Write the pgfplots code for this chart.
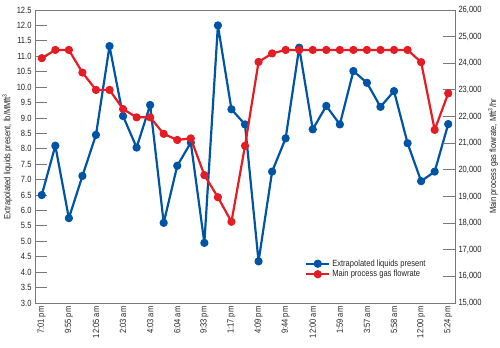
\documentclass[border=0pt]{standalone}
\usepackage{fontspec}
\setmainfont{Liberation Sans}[FakeStretch=0.84]
\usepackage{pgfplots}
\pgfplotsset{compat=1.18}
\definecolor{myblue}{RGB}{0,84,166}
\definecolor{myred}{RGB}{228,28,36}
\definecolor{axgray}{RGB}{120,120,120}
\definecolor{txt}{RGB}{35,35,35}
\pgfplotsset{
  common/.style={
    width=420pt, height=293pt, scale only axis,
    xmin=-0.5, xmax=30.5,
    axis line style={axgray, line width=0.8pt},
    tick align=inside,
    major tick length=12pt,
    /pgf/number format/assume math mode=true,
    tick label style={font=\fontsize{9}{10}\selectfont, text=txt},
    label style={font=\fontsize{9}{10}\selectfont, text=txt},
  },
  lline legend/.style={legend image code/.code={
    \draw[mark repeat=2,mark phase=2,##1] plot coordinates {(0cm,0cm) (0.4cm,0cm) (0.8cm,0cm)};}},
}
\begin{document}
\begin{tikzpicture}
\begin{axis}[common,
  ymin=3, ymax=12.5,
  xtick={0,2,...,30},
  xticklabels={7:01 pm, 9:55 pm, 12:05 am, 2:03 am, 4:03 am, 6:04 am, 9:33 pm, 1:17 pm, 4:09 pm, 9:44 pm, 12:00 am, 1:59 am, 3:57 am, 5:58 am, 12:00 pm, 5:24 pm},
  x tick label style={rotate=90, anchor=east},
  xtick style={draw=none},
  minor xtick={0.5,1.5,...,29.5},
  minor x tick style={axgray, line width=0.8pt},
  minor tick length=8pt,
  xtick pos=left,
  ytick distance=0.5,
  ytick pos=left,
  ytick style={axgray, line width=0.8pt},
  yticklabel style={/pgf/number format/.cd, fixed, fixed zerofill, precision=1},
  ylabel={Extrapolated liquids present, lb/MMft\textsuperscript{3}},
  ylabel style={at={(axis description cs:-0.066,0.5)}, anchor=center},
]
\coordinate (bl) at (rel axis cs:0,0);
\coordinate (tr) at (rel axis cs:1,1);
\addplot[myblue, line width=2.2pt, line join=round, mark=*, mark size=3pt] coordinates {
(0,6.5) (1,8.1) (2,5.75) (3,7.12) (4,8.45) (5,11.33) (6,9.06) (7,8.04) (8,9.42) (9,5.6)
(10,7.45) (11,8.2) (12,4.95) (13,12.0) (14,9.28) (15,8.79) (16,4.35) (17,7.26) (18,8.34) (19,11.28)
(20,8.63) (21,9.39) (22,8.79) (23,10.52) (24,10.14) (25,9.36) (26,9.87) (27,8.18) (28,6.95) (29,7.26) (30,8.8)
};
\end{axis}
\begin{axis}[common,
  ymin=15000, ymax=26000,
  hide x axis,
  axis y line*=right,
  ytick distance=1000,
  ytick style={axgray, line width=0.8pt},
  scaled y ticks=false,
  yticklabel style={/pgf/number format/.cd, 1000 sep={,}},
  ylabel={Main process gas flowrate, Mft\textsuperscript{3}/hr},
  ylabel style={at={(axis description cs:1.0905,0.5)}, anchor=center},
  lline legend,
  legend style={at={(axis description cs:0.636,0.162)}, anchor=north west, draw=none, fill=none,
    font=\fontsize{9}{10}\selectfont, text=txt, row sep=-1.5pt},
  legend cell align=left,
]
\addlegendimage{myblue, line width=2.2pt, mark=*, mark size=3pt}
\addlegendentry{Extrapolated liquids present}
\addplot[myred, line width=2.2pt, line join=round, mark=*, mark size=3pt] coordinates {
(0,24190) (1,24500) (2,24500) (3,23650) (4,23000) (5,23000) (6,22280) (7,21970) (8,21970) (9,21350)
(10,21120) (11,21180) (12,19800) (13,18970) (14,18050) (15,20900) (16,24050) (17,24370) (18,24500) (19,24500)
(20,24500) (21,24500) (22,24500) (23,24500) (24,24500) (25,24500) (26,24500) (27,24500) (28,24040) (29,21500) (30,22870)
};
\addlegendentry{Main process gas flowrate}
\end{axis}
\pgfresetboundingbox
\path ([shift={(-35pt,-45pt)}]bl) rectangle ([shift={(45pt,10pt)}]tr);
\end{tikzpicture}
\end{document}
